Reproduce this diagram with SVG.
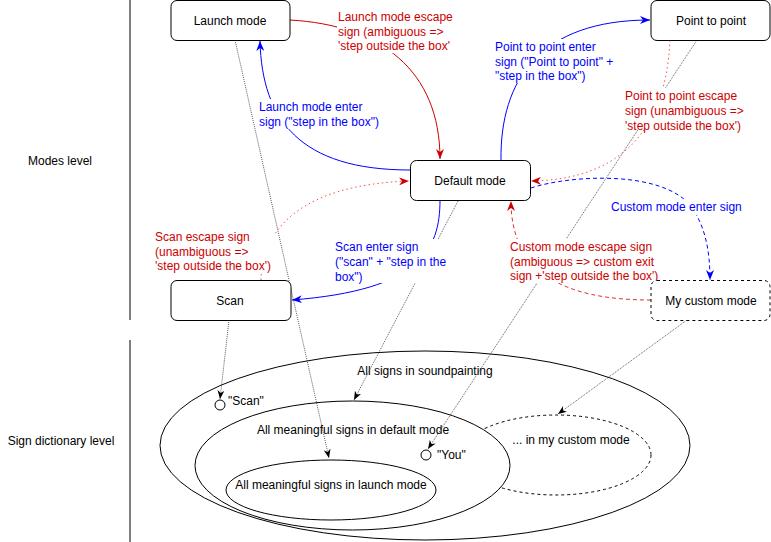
<svg xmlns="http://www.w3.org/2000/svg" width="771" height="542" viewBox="0 0 771 542">
<style>
text{font-family:"Liberation Sans",Arial,Helvetica,sans-serif;font-size:12px;fill:#000}
.node{fill:#fff;stroke:#000;stroke-width:1}
.dash{stroke-dasharray:3 3}
.ell{fill:#fff;stroke:#000;stroke-width:1}
.red{fill:#CC0000}
.blue{fill:#0000FF}
.bg{fill:#fff;stroke:none}
.dot{fill:none;stroke:#333;stroke-width:0.8;stroke-dasharray:1 1}
.c{text-anchor:middle}
</style>
<defs>
<marker id="aK" viewBox="0 0 10 8" refX="10" refY="4" markerWidth="9" markerHeight="7" markerUnits="userSpaceOnUse" orient="auto"><path d="M0,0 L10,4 L0,8 L3,4 z" fill="#000"/></marker>
<marker id="aB" viewBox="0 0 10 8" refX="10" refY="4" markerWidth="10" markerHeight="8" markerUnits="userSpaceOnUse" orient="auto"><path d="M0,0 L10,4 L0,8 L3,4 z" fill="#0000FF"/></marker>
<marker id="aR" viewBox="0 0 10 8" refX="10" refY="4" markerWidth="10" markerHeight="8" markerUnits="userSpaceOnUse" orient="auto"><path d="M0,0 L10,4 L0,8 L3,4 z" fill="#CC0000"/></marker>
</defs>
<rect width="771" height="542" fill="#fff"/>

<g id="levels">
<line x1="130" y1="0" x2="130" y2="320" stroke="#000"/>
<line x1="130" y1="340" x2="130" y2="542" stroke="#000"/>
<text x="60" y="165" class="c">Modes level</text>
<text x="61" y="445" class="c">Sign dictionary level</text>
</g>

<g id="dictionary">
<ellipse id="all-signs" class="ell" cx="425" cy="445.5" rx="265" ry="94.5"/>
<ellipse id="custom-signs" class="ell dash" cx="556" cy="455" rx="95" ry="40"/>
<ellipse id="default-signs" class="ell" cx="352.5" cy="465.5" rx="157.5" ry="64.5"/>
<ellipse id="launch-signs" class="ell" cx="331" cy="490" rx="105" ry="30"/>
<text x="425" y="375" class="c">All signs in soundpainting</text>
<text x="353" y="434" class="c">All meaningful signs in default mode</text>
<text x="331" y="489" class="c">All meaningful signs in launch mode</text>
<text x="571" y="444" class="c">... in my custom mode</text>
<g id="sign-scan"><circle cx="220" cy="405" r="5" fill="#fff" stroke="#000"/><text x="228" y="405">"Scan"</text></g>
<g id="sign-you"><circle cx="426" cy="455" r="5" fill="#fff" stroke="#000"/><text x="437" y="459">"You"</text></g>
</g>

<g id="connectors">
<path class="dot" d="M235,40 L329,458" marker-end="url(#aK)"/>
<path class="dot" d="M229,320 L220,399" marker-end="url(#aK)"/>
<path class="dot" d="M458,201 L354,400" marker-end="url(#aK)"/>
<path class="dot" d="M697,40 L428,449" marker-end="url(#aK)"/>
<path class="dot" d="M687,320 L558,414" marker-end="url(#aK)"/>

<path d="M290,20 C380,25 440,70 440,159" fill="none" stroke="#CC0000" marker-end="url(#aR)"/>
<path d="M410,170 C300,170 262,120 260,41" fill="none" stroke="#0000FF" marker-end="url(#aB)"/>
<path d="M501,160 C500,80 540,20 650,20" fill="none" stroke="#0000FF" marker-end="url(#aB)"/>
<path d="M670,40 C665,150 600,180 531,181" fill="none" stroke="#EE5555" stroke-dasharray="1.5 3" marker-end="url(#aR)"/>
<path d="M261,280 C262,230 300,185 409,181" fill="none" stroke="#EE5555" stroke-dasharray="1.5 3" marker-end="url(#aR)"/>
<path d="M440,200 C440,250 420,290 292,300" fill="none" stroke="#0000FF" marker-end="url(#aB)"/>
<path d="M531,188 C570,175 660,170 690,205 C705,225 710,250 710,280" fill="none" stroke="#0000FF" stroke-dasharray="4 3" marker-end="url(#aB)"/>
<path d="M651,300 C560,300 511,270 511,201" fill="none" stroke="#DD3333" stroke-dasharray="4 3" marker-end="url(#aR)"/>
</g>

<g id="labels">
<g id="lbl-launch-escape"><rect class="bg" x="337" y="9" width="122" height="44"/>
<text class="red" x="338" y="21">Launch mode escape</text><text class="red" x="338" y="36">sign (ambiguous =&gt;</text><text class="red" x="338" y="50">'step outside the box'</text></g>
<g id="lbl-launch-enter"><rect class="bg" x="258" y="99" width="123" height="30"/>
<text class="blue" x="259" y="111">Launch mode enter</text><text class="blue" x="259" y="126">sign ("step in the box")</text></g>
<g id="lbl-ptp-enter"><rect class="bg" x="494" y="39" width="122" height="44"/>
<text class="blue" x="495" y="51">Point to point enter</text><text class="blue" x="495" y="66">sign ("Point to point" +</text><text class="blue" x="495" y="80">"step in the box")</text></g>
<g id="lbl-ptp-escape"><rect class="bg" x="624" y="88" width="127" height="42"/>
<text class="red" x="625" y="100">Point to point escape</text><text class="red" x="625" y="115">sign (unambiguous =&gt;</text><text class="red" x="625" y="130">'step outside the box')</text></g>
<g id="lbl-scan-escape"><rect class="bg" x="154" y="229" width="121" height="44"/>
<text class="red" x="155" y="241">Scan escape sign</text><text class="red" x="155" y="256">(unambiguous =&gt;</text><text class="red" x="155" y="270">'step outside the box')</text></g>
<g id="lbl-scan-enter"><rect class="bg" x="334" y="239" width="115" height="44"/>
<text class="blue" x="335" y="251">Scan enter sign</text><text class="blue" x="335" y="266">("scan" + "step in the</text><text class="blue" x="335" y="281">box")</text></g>
<g id="lbl-custom-enter"><rect class="bg" x="610" y="199" width="138" height="16"/>
<text class="blue" x="611" y="211">Custom mode enter sign</text></g>
<g id="lbl-custom-escape"><rect class="bg" x="509" y="239" width="154" height="44"/>
<text class="red" x="510" y="251">Custom mode escape sign</text><text class="red" x="510" y="266">(ambiguous =&gt; custom exit</text><text class="red" x="510" y="280">sign +'step outside the box')</text></g>
</g>

<g id="launch-mode"><rect class="node" x="171" y="0.5" width="119" height="40" rx="6"/><text x="230" y="25" class="c">Launch mode</text></g>
<g id="point-to-point"><rect class="node" x="651" y="0.5" width="119" height="40" rx="6"/><text x="711" y="25" class="c">Point to point</text></g>
<g id="default-mode"><rect class="node" x="410.5" y="160.5" width="120" height="40" rx="6"/><text x="470" y="185" class="c">Default mode</text></g>
<g id="scan"><rect class="node" x="171" y="280.5" width="120" height="40" rx="6"/><text x="230" y="305" class="c">Scan</text></g>
<g id="my-custom-mode"><rect class="node dash" x="651" y="280.5" width="119" height="40" rx="6"/><text x="711" y="305" class="c">My custom mode</text></g>
</svg>
